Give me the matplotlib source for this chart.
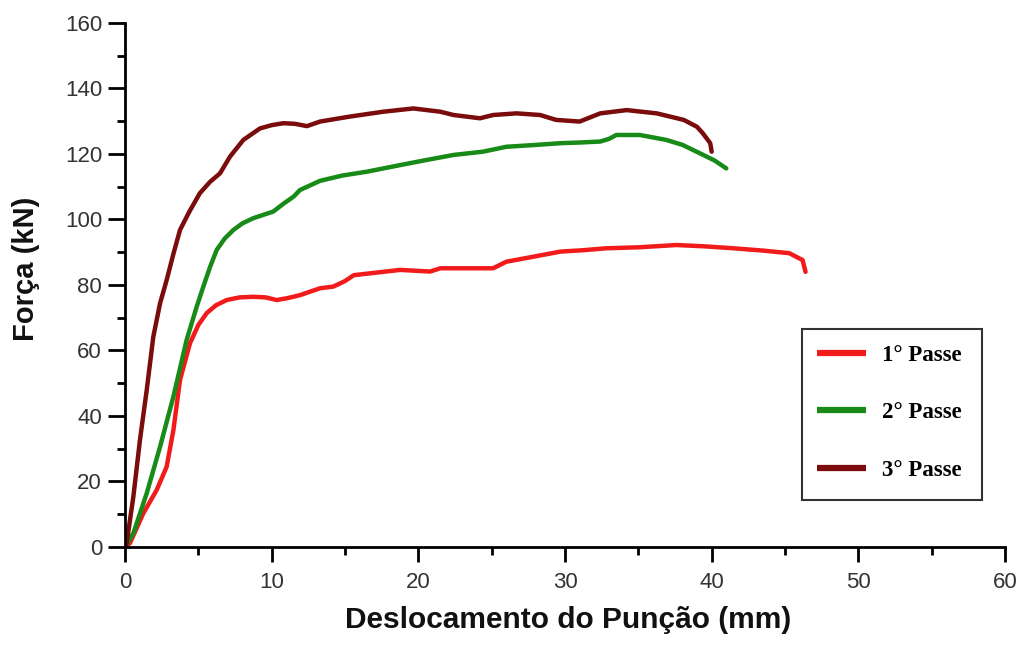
import matplotlib
matplotlib.use("Agg")
import matplotlib.pyplot as plt
from matplotlib.patches import Rectangle
from matplotlib.ticker import MultipleLocator

# ---- dados (deslocamento mm, força kN) ----
x_passe1 = [0, 0.34, 1.25, 2.16, 2.84, 3.3, 3.75, 4.43, 5.0, 5.57, 6.2, 6.93, 7.8, 8.75,
            9.6, 10.34, 11.1, 11.93, 13.3, 14.2, 15.0, 15.6, 16.8, 18.75, 20.8, 21.5,
            24.0, 25.1, 26.0, 27.8, 29.7, 31.2, 32.8, 35.0, 37.6, 39.5, 41.5, 43.5,
            45.3, 46.2, 46.4]
y_passe1 = [0, 1.2, 10.3, 17.4, 24.5, 35.7, 51.0, 62.2, 67.8, 71.4, 73.8, 75.4, 76.2, 76.4,
            76.2, 75.4, 76.0, 76.9, 79.0, 79.5, 81.2, 83.0, 83.6, 84.6, 84.1, 85.1,
            85.1, 85.1, 87.1, 88.6, 90.2, 90.6, 91.2, 91.5, 92.2, 91.8, 91.2, 90.5,
            89.7, 87.6, 84.0]

x_passe2 = [0, 0.57, 1.48, 2.39, 3.3, 4.2, 4.89, 5.34, 5.8, 6.25, 6.8, 7.39, 8.0, 8.75,
            10.1, 10.8, 11.5, 11.93, 13.3, 14.8, 16.5, 18.75, 20.6, 22.4, 24.4, 26.0,
            27.8, 29.7, 31.0, 32.4, 33.0, 33.5, 35.1, 36.9, 38.0, 39.2, 40.2, 41.0]
y_passe2 = [0, 4.2, 16.4, 30.6, 45.9, 63.2, 73.4, 79.5, 85.5, 90.7, 94.2, 96.8, 98.8, 100.4,
            102.4, 104.8, 107.0, 109.0, 111.8, 113.4, 114.6, 116.6, 118.2, 119.7, 120.7,
            122.2, 122.7, 123.3, 123.5, 123.8, 124.6, 125.8, 125.8, 124.3, 122.8, 120.2,
            118.0, 115.6]

x_passe3 = [0, 0.11, 0.57, 1.02, 1.48, 1.93, 2.39, 2.84, 3.3, 3.75, 4.4, 5.1, 5.8, 6.48,
            7.16, 8.07, 9.2, 10.0, 10.8, 11.6, 12.4, 13.3, 15.3, 17.6, 19.66, 21.5,
            22.4, 24.2, 25.1, 26.7, 28.3, 29.4, 31.0, 32.4, 34.2, 36.25, 38.1, 39.0,
            39.4, 39.9, 40.0]
y_passe3 = [0, 1.1, 15.4, 32.7, 47.9, 64.2, 74.4, 81.5, 89.5, 96.8, 102.5, 108.0, 111.5,
            114.1, 119.2, 124.3, 127.8, 128.8, 129.4, 129.2, 128.5, 129.9, 131.4, 132.9,
            133.9, 132.9, 131.9, 130.9, 131.9, 132.4, 131.9, 130.4, 129.9, 132.4, 133.4,
            132.4, 130.4, 128.3, 126.3, 123.3, 120.7]

labels = ["1° Passe", "2° Passe", "3° Passe"]
cores = ["#f21b1b", "#178a17", "#7a0c0c"]

fig = plt.figure(figsize=(10.23, 6.49), dpi=100)
ax = fig.add_axes([0.1222, 0.1572, 0.8602, 0.8074])

for xs, ys, lab, c in zip([x_passe1, x_passe2, x_passe3],
                          [y_passe1, y_passe2, y_passe3], labels, cores):
    ax.plot(xs, ys, color=c, linewidth=3.2, label=lab,
            solid_capstyle="round", solid_joinstyle="round")

ax.set_xlim(0, 60)
ax.set_ylim(0, 160)
ax.xaxis.set_major_locator(MultipleLocator(10))
ax.xaxis.set_minor_locator(MultipleLocator(5))
ax.yaxis.set_major_locator(MultipleLocator(20))
ax.yaxis.set_minor_locator(MultipleLocator(10))

for s in ["top", "right"]:
    ax.spines[s].set_visible(False)
for s in ["left", "bottom"]:
    ax.spines[s].set_linewidth(2)

ax.tick_params(which="major", direction="out", length=12, width=2)
ax.tick_params(which="minor", direction="out", length=5.5, width=2)
ax.tick_params(axis="y", which="major", length=12.5, pad=4)
ax.tick_params(axis="x", which="major", length=11, pad=7)
for t in ax.get_xticklabels() + ax.get_yticklabels():
    t.set_family(["Liberation Sans", "DejaVu Sans"])
    t.set_fontsize(16)
    t.set_color("#333333")

ax.set_xlabel("Deslocamento do Punção (mm)", fontsize=21.5, fontweight="bold",
              family=["Liberation Sans", "DejaVu Sans"], color="#111111")
ax.set_ylabel("Força (kN)", fontsize=21, fontweight="bold",
              family=["Liberation Sans", "DejaVu Sans"], color="#111111")
ax.xaxis.set_label_coords(0.503, -0.113)
ax.yaxis.set_label_coords(-0.097, 0.53)

# caixa da legenda
ax.add_patch(Rectangle((0.769, 0.0897), 0.205, 0.326, transform=ax.transAxes,
                       fill=False, edgecolor="#333333", linewidth=1.5, zorder=5))
leg = ax.legend(loc="center", bbox_to_anchor=(0.869, 0.256), frameon=False,
                labelspacing=1.6, handlelength=2.15, handletextpad=0.7,
                prop={"family": "Liberation Serif", "weight": "bold", "size": 16.5})
for h in leg.get_lines():
    h.set_linewidth(4.5)
    h.set_solid_capstyle("butt")

fig.savefig("out.png", dpi=100)
